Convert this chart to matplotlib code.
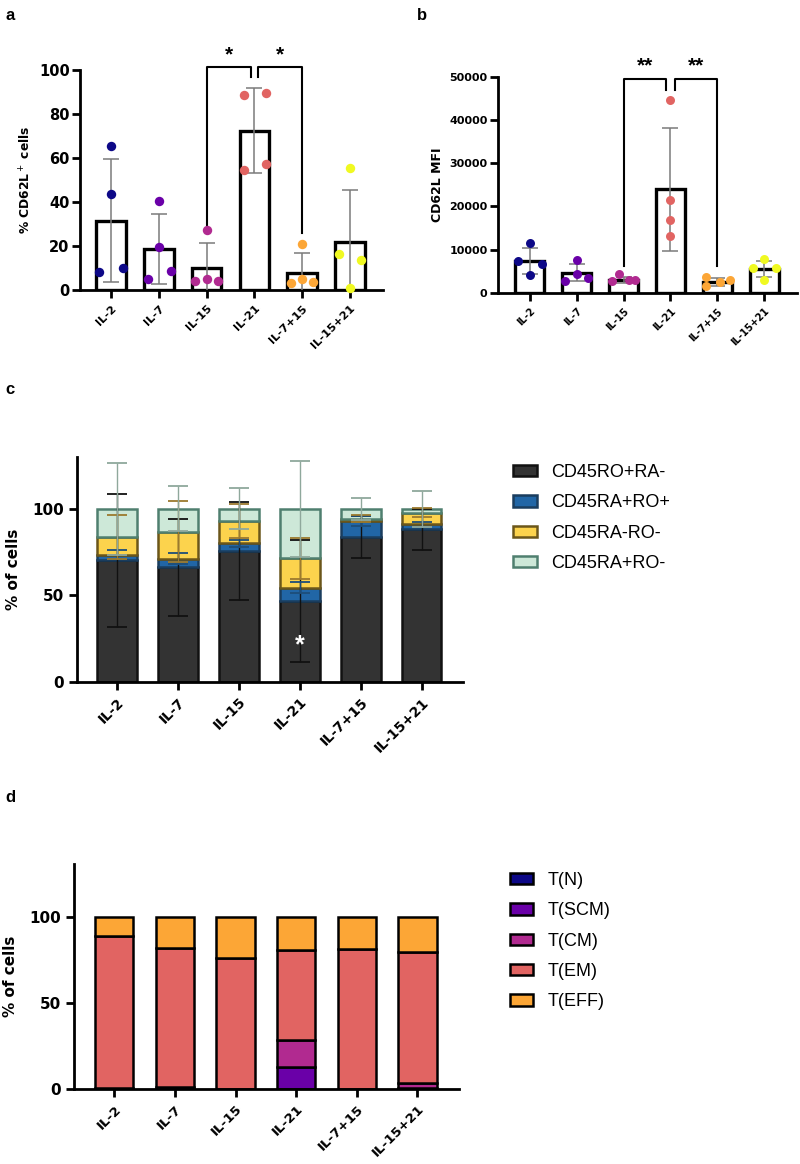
import matplotlib
matplotlib.use("Agg")
import matplotlib.pyplot as plt
import numpy as np
from matplotlib.patches import Patch

plt.rcParams['font.family'] = ['Liberation Sans', 'DejaVu Sans']
TICKFONT = ['DejaVu Sans']

groups = ["IL-2", "IL-7", "IL-15", "IL-21", "IL-7+15", "IL-15+21"]
group_colors = ["#0d0887", "#6a00a8", "#b12a90", "#e16462", "#fca636", "#f0f921"]

# Panel a: % CD62L+ cells
a_mean = [31.5, 18.5, 9.8, 72.2, 7.8, 21.6]
a_sd = [28.0, 16.0, 11.5, 19.2, 8.8, 23.8]
a_points = [[65.5, 43.5, 8, 10], [40.5, 19.5, 5, 8.5], [27, 4, 5, 4],
            [88.5, 89.5, 54.5, 57], [21, 3, 5, 3.5], [55.5, 16.5, 13.5, 1]]
a_offsets = [[0, 0, -0.25, 0.25], [0, 0, -0.22, 0.25], [0, -0.25, 0, 0.23],
             [-0.22, 0.25, -0.22, 0.25], [0, -0.23, 0, 0.23], [0, -0.24, 0.23, 0]]

# Panel b: CD62L MFI
b_mean = [7400, 4700, 3100, 24000, 2600, 5600]
b_sd = [3100, 2000, 700, 14200, 900, 1850]
b_points = [[11500, 7300, 6700, 4200], [7700, 2800, 4500, 3500], [2800, 4300, 2900, 3000],
            [44600, 21500, 16800, 13100], [3800, 1700, 2500, 2900], [7800, 5800, 5800, 3100]]
b_offsets = [[0, -0.26, 0.25, 0], [0, -0.26, 0, 0.23], [-0.24, -0.09, 0.12, 0.25],
             [0, 0, 0, 0], [-0.25, -0.25, 0.05, 0.26], [0, -0.24, 0.26, 0]]

# Panel c: CD45 subsets (stacked %)
c_labels = ["CD45RO+RA-", "CD45RA+RO+", "CD45RA-RO-", "CD45RA+RO-"]
c_black = [70.2, 66.2, 75.4, 46.8, 83.7, 88.2]
c_blue = [3.3, 5.0, 4.7, 7.6, 9.1, 2.8]
c_yellow = [10.2, 15.5, 12.9, 17.0, 1.6, 6.8]
c_green = [16.3, 13.3, 7.0, 28.6, 5.6, 2.2]
c_black_sd = [38.6, 28.0, 28.4, 35.2, 12.0, 12.0]
c_blue_sd = [2.5, 3.0, 2.0, 3.0, 3.0, 1.5]
c_yellow_sd = [12.5, 17.7, 10.0, 11.8, 2.0, 2.5]
c_green_sd = [26.5, 13.0, 11.8, 27.6, 6.4, 10.6]
c_fill = ["#333333", "#2166a6", "#fcd34d", "#cde8d8"]
c_edge = ["#111111", "#1a3d5e", "#6b561a", "#4f7f6f"]
c_err = ["#111111", "#1d4e7a", "#9c7a2e", "#8fa89c"]

# Panel d: T cell subsets (stacked %)
d_labels = ["T(N)", "T(SCM)", "T(CM)", "T(EM)", "T(EFF)"]
d_tn = [0.0, 1.2, 0.0, 0.0, 0.0, 0.0]
d_tscm = [0.0, 0.0, 0.0, 13.2, 0.0, 0.5]
d_tcm = [0.8, 0.0, 0.0, 15.5, 0.0, 3.0]
d_tem = [88.3, 81.2, 76.6, 52.5, 81.6, 76.5]
d_teff = [10.9, 17.6, 23.4, 18.8, 18.4, 20.0]
d_colors = ["#0d0887", "#6a00a8", "#b12a90", "#e16462", "#fca636"]

W, H = 800, 1164
fig = plt.figure(figsize=(W / 100, H / 100), dpi=100)


def ax_px(left, right, bottom, top):
    return fig.add_axes([left / W, 1 - bottom / H, (right - left) / W, (bottom - top) / H])


def style_axis(ax, xfs, yfs, ypad=3.5):
    for s in ["top", "right"]:
        ax.spines[s].set_visible(False)
    for s in ["left", "bottom"]:
        ax.spines[s].set_linewidth(2.0)
    ax.tick_params(axis="both", width=2.0, length=6, colors="black")
    ax.tick_params(axis="y", pad=ypad)
    ax.set_xticks(range(len(groups)))
    ax.set_xticklabels(groups, rotation=45, ha="right", rotation_mode="anchor",
                       fontweight="bold", family=TICKFONT, fontsize=xfs)
    for lab in ax.get_yticklabels():
        lab.set_fontweight("bold")
        lab.set_family(TICKFONT)
        lab.set_fontsize(yfs)


x = np.arange(len(groups))

# ---------------- Panel a ----------------
axa = ax_px(80, 383, 290, 69.5)
axa.bar(x, a_mean, width=0.62, color="white", edgecolor="black", linewidth=2.4, zorder=2)
axa.errorbar(x, a_mean, yerr=a_sd, fmt="none", ecolor="#7a7a7a", elinewidth=1.1,
             capsize=6, capthick=1.1, zorder=3)
for i in range(len(groups)):
    axa.scatter(x[i] + np.array(a_offsets[i]), a_points[i], s=46, color=group_colors[i],
                zorder=4, clip_on=False, linewidths=0)
axa.set_xlim(-0.65, 5.69)
axa.set_ylim(0, 100)
axa.set_yticks([0, 20, 40, 60, 80, 100])
style_axis(axa, 8.2, 10.5, ypad=1.5)
axa.set_ylabel("% CD62L$^+$ cells", fontsize=8.8, fontweight="bold", family=TICKFONT, labelpad=4)
axa.plot([2, 2, 2.92, 2.92], [27, 101, 101, 96.5], color="black", lw=1.5, clip_on=False)
axa.plot([3.08, 3.08, 4, 4], [96.5, 101, 101, 26], color="black", lw=1.5, clip_on=False)
axa.text(2.46, 102.5, "*", ha="center", va="bottom", fontsize=15, fontweight="bold")
axa.text(3.54, 102.5, "*", ha="center", va="bottom", fontsize=15, fontweight="bold")

# ---------------- Panel b ----------------
axb = ax_px(498, 797, 293, 76.7)
axb.bar(x, b_mean, width=0.62, color="white", edgecolor="black", linewidth=2.4, zorder=2)
axb.errorbar(x, b_mean, yerr=b_sd, fmt="none", ecolor="#7a7a7a", elinewidth=1.1,
             capsize=6, capthick=1.1, zorder=3)
for i in range(len(groups)):
    axb.scatter(x[i] + np.array(b_offsets[i]), b_points[i], s=42, color=group_colors[i],
                zorder=4, clip_on=False, linewidths=0)
axb.set_xlim(-0.68, 5.7)
axb.set_ylim(0, 50000)
axb.set_yticks([0, 10000, 20000, 30000, 40000, 50000])
style_axis(axb, 7.0, 8.0, ypad=1.5)
axb.set_ylabel("CD62L MFI", fontsize=9, fontweight="bold", family=TICKFONT, labelpad=4)
axb.plot([2, 2, 2.9, 2.9], [6200, 49500, 49500, 47000], color="black", lw=1.5, clip_on=False)
axb.plot([3.1, 3.1, 4, 4], [47000, 49500, 49500, 6200], color="black", lw=1.5, clip_on=False)
axb.text(2.45, 50300, "**", ha="center", va="bottom", fontsize=15, fontweight="bold")
axb.text(3.55, 50300, "**", ha="center", va="bottom", fontsize=15, fontweight="bold")

# ---------------- Panel c ----------------
axc = ax_px(77, 463, 681.7, 457)
c_series = [c_black, c_blue, c_yellow, c_green]
c_sds = [c_black_sd, c_blue_sd, c_yellow_sd, c_green_sd]
bottom = np.zeros(len(groups))
tops = []
for k in range(4):
    vals = np.array(c_series[k])
    axc.bar(x, vals, bottom=bottom, width=0.65, color=c_fill[k], edgecolor=c_edge[k],
            linewidth=1.8, zorder=2)
    bottom = bottom + vals
    tops.append(bottom.copy())
for k in range(4):
    axc.errorbar(x, tops[k], yerr=c_sds[k], fmt="none", ecolor=c_err[k], elinewidth=1.0,
                 capsize=7, capthick=1.3, zorder=3 + k * 0.1, clip_on=False)
axc.text(3, 21, "*", ha="center", va="center", fontsize=18, fontweight="bold", color="white", zorder=6)
axc.set_xlim(-0.66, 5.68)
axc.set_ylim(0, 130)
axc.set_yticks([0, 50, 100])
style_axis(axc, 10.1, 11)
axc.set_ylabel("% of cells", fontsize=11, fontweight="bold", family=TICKFONT, labelpad=8)
handles_c = [Patch(facecolor=c_fill[k], edgecolor=c_edge[k], linewidth=1.8) for k in range(4)]
fig.legend(handles_c, c_labels, loc="upper left", bbox_to_anchor=(513 / W, 1 - 464 / H),
           frameon=False, fontsize=13, handlelength=1.33, handleheight=0.6,
           handletextpad=0.8, labelspacing=0.74, borderpad=0, borderaxespad=0)

# ---------------- Panel d ----------------
axd = ax_px(74, 459.3, 1089.3, 864)
d_series = [d_tn, d_tscm, d_tcm, d_tem, d_teff]
bottom = np.zeros(len(groups))
for k in range(5):
    vals = np.array(d_series[k])
    axd.bar(x, vals, bottom=bottom, width=0.63, color=d_colors[k], edgecolor="black",
            linewidth=1.8, zorder=2)
    bottom = bottom + vals
axd.set_xlim(-0.665, 5.69)
axd.set_ylim(0, 131)
axd.set_yticks([0, 50, 100])
style_axis(axd, 9.6, 11)
axd.set_ylabel("% of cells", fontsize=11, fontweight="bold", family=TICKFONT, labelpad=8)
handles_d = [Patch(facecolor=d_colors[k], edgecolor="black", linewidth=1.8) for k in range(5)]
fig.legend(handles_d, d_labels, loc="upper left", bbox_to_anchor=(510 / W, 1 - 872 / H),
           frameon=False, fontsize=13, handlelength=1.3, handleheight=0.6,
           handletextpad=0.8, labelspacing=0.74, borderpad=0, borderaxespad=0)

# Panel letters
for lbl, px, py in [("a", 10, 15), ("b", 422, 15), ("c", 10, 390), ("d", 10, 797)]:
    fig.text(px / W, 1 - py / H, lbl, fontsize=12, fontweight="bold", ha="center", va="center")

fig.savefig("out.png", dpi=100, facecolor="white")
